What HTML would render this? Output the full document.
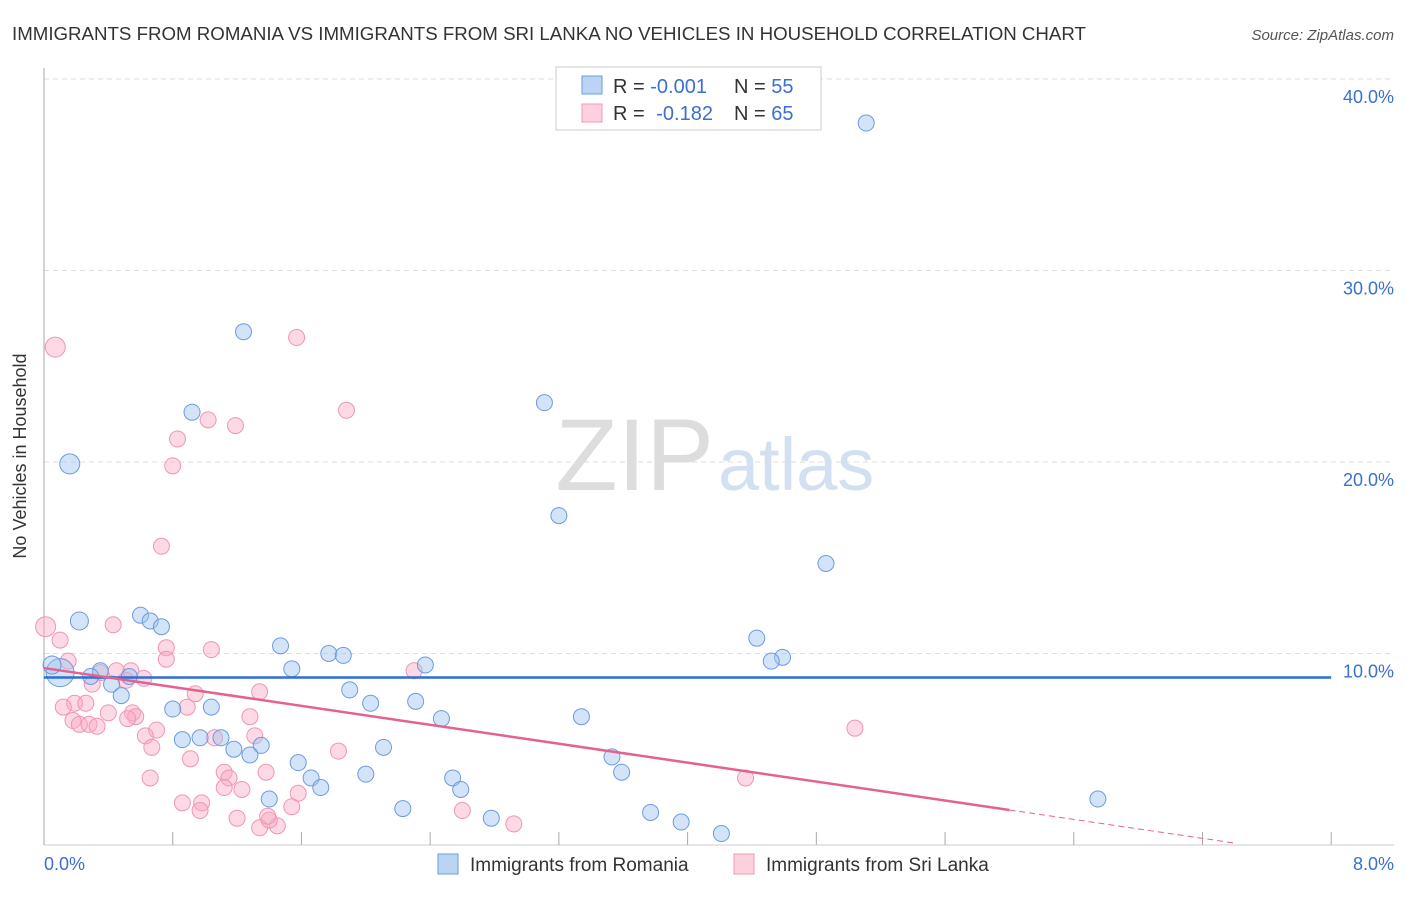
<!DOCTYPE html>
<html><head><meta charset="utf-8"><style>
body{margin:0;background:#fff;font-family:"Liberation Sans",sans-serif;}
svg text{font-family:"Liberation Sans",sans-serif;}
</style></head><body>
<svg width="1406" height="892">
<text x="12" y="40" font-size="18.7" fill="#333">IMMIGRANTS FROM ROMANIA VS IMMIGRANTS FROM SRI LANKA NO VEHICLES IN HOUSEHOLD CORRELATION CHART</text>
<text x="1394" y="40" font-size="15" fill="#555" text-anchor="end" font-style="italic">Source: ZipAtlas.com</text>
<g id="grid"></g>
<text x="714" y="490" font-size="102" font-family="Liberation Serif" fill="#ddd" text-anchor="end">ZIP</text>
<text x="718" y="490" font-size="74" fill="#d3e0f2">atlas</text>
<g id="pts"></g>
<g id="lines"></g>
<text x="26" y="456" font-size="18" fill="#333" text-anchor="middle" transform="rotate(-90 26 456)">No Vehicles in Household</text>
<text x="44" y="870" font-size="18" fill="#3b6fd0">0.0%</text>
<text x="1394" y="870" font-size="18" fill="#3b6fd0" text-anchor="end">8.0%</text>
<g>
<rect x="556" y="67" width="265" height="63" fill="#fff" stroke="#ccc"/>
<rect x="582" y="76" width="20" height="18" fill="#bcd4f4" stroke="#6b9be0"/>
<rect x="582" y="104" width="20" height="18" fill="#fcd0dc" stroke="#f09ab4"/>
<text x="613" y="93" font-size="20" fill="#333">R = <tspan fill="#3b6fd0">-0.001</tspan><tspan x="734">N = </tspan><tspan fill="#3b6fd0">55</tspan></text>
<text x="613" y="120" font-size="20" fill="#333">R = <tspan fill="#3b6fd0" dx="6">-0.182</tspan><tspan x="734">N = </tspan><tspan fill="#3b6fd0">65</tspan></text>
</g>
<g>
<rect x="438" y="854" width="20" height="20" fill="#bcd4f4" stroke="#6b9be0"/>
<text x="470" y="871" font-size="19" fill="#333">Immigrants from Romania</text>
<rect x="734" y="854" width="20" height="20" fill="#fcd0dc" stroke="#f09ab4"/>
<text x="766" y="871" font-size="19" fill="#333">Immigrants from Sri Lanka</text>
</g>
</svg>
<script>
const xTicks=[0,0.8,1.6,2.4,3.2,4,4.8,5.6,6.4,7.2,8];
const yTicks=[10,20,30,40];
const yTickLabels=["10.0%","20.0%","30.0%","40.0%"];
const blueX=[5.11,1.24,0.92,0.16,3.11,3.2,4.86,0.6,0.66,0.73,0.22,4.43,4.59,4.52,1.47,1.77,1.86,1.54,2.37,0.35,0.1,0.05,0.29,0.53,0.42,0.48,1.9,2.03,2.31,0.8,1.04,2.47,3.34,0.86,0.97,1.1,1.35,1.18,1.28,2.11,3.53,1.58,1.66,1.72,2.0,2.54,2.59,3.59,1.4,2.23,2.78,3.77,3.96,4.21,6.55];
const blueY=[37.7,26.8,22.6,19.9,23.1,17.2,14.7,12.0,11.7,11.4,11.7,10.8,9.8,9.6,10.4,10.0,9.9,9.2,9.4,9.1,9.0,9.4,8.8,8.8,8.4,7.8,8.1,7.4,7.5,7.1,7.2,6.6,6.7,5.5,5.6,5.6,5.2,5.0,4.7,5.1,4.6,4.3,3.5,3.0,3.7,3.5,2.9,3.8,2.4,1.9,1.4,1.7,1.2,0.6,2.4];
const blueR=[8,8,8,10,8,8,8,8,8,8,9,8,8,8,8,8,8,8,8,8,14,9,8,8,8,8,8,8,8,8,8,8,8,8,8,8,8,8,8,8,8,8,8,8,8,8,8,8,8,8,8,8,8,8,8];
const pinkX=[0.07,1.57,1.88,1.02,1.19,0.83,0.8,0.73,0.01,0.43,0.1,0.76,1.04,0.76,0.15,0.54,0.45,0.35,0.62,0.3,0.51,0.94,1.34,2.3,0.19,0.12,0.26,0.4,0.55,0.89,0.57,1.28,0.52,0.18,0.22,0.28,0.33,0.7,1.31,0.63,0.67,1.06,1.83,0.91,5.04,1.12,1.38,0.66,1.15,4.36,0.86,0.98,1.12,1.23,1.58,1.54,0.97,1.2,2.6,2.92,1.34,1.45,1.4,1.39];
const pinkY=[26.0,26.5,22.7,22.2,21.9,21.2,19.8,15.6,11.4,11.5,10.7,10.3,10.2,9.7,9.6,9.1,9.1,9.0,8.7,8.4,8.6,7.9,8.0,9.1,7.4,7.2,7.4,6.9,6.9,7.2,6.7,6.7,6.6,6.5,6.3,6.3,6.2,6.0,5.7,5.7,5.1,5.6,4.9,4.5,6.1,3.8,3.8,3.5,3.5,3.5,2.2,2.2,3.0,2.9,2.7,2.0,1.8,1.4,1.8,1.1,0.9,1.0,1.3,1.5];
const blueFit=[8.75,8.75];
const pinkFit=[9.24,-0.64];
const pinkFitX=[0,8];
const X=v=>44+v*160.9, Y=v=>845-v*19.15;
const NS="http://www.w3.org/2000/svg";
const grid=document.getElementById('grid');
function mk(t,a,p){const e=document.createElementNS(NS,t);for(const k in a)e.setAttribute(k,a[k]);p.appendChild(e);return e;}
yTicks.forEach((t,i)=>{
 const l=mk('line',{x1:44,x2:1394,y1:Y(t),y2:Y(t),stroke:'#ddd','stroke-dasharray':'5,4'},grid);
 
 
 const tx=mk('text',{x:1394,y:Y(t)+24,'font-size':18,fill:'#3b6fd0','text-anchor':'end'},grid);
 tx.textContent=yTickLabels[i];
 
 
});
const ax=mk('line',{x1:44,x2:44,y1:68,y2:845,stroke:'#aaa'},grid);


const bx=mk('line',{x1:44,x2:1394,y1:845,y2:845,stroke:'#ccc'},grid);


xTicks.forEach(t=>{
 const l=mk('line',{x1:X(t),x2:X(t),y1:832,y2:845,stroke:'#aaa'},grid);
 
 
});
const pts=document.getElementById('pts');
pinkX.forEach((x,i)=>{
 const c=mk('circle',{cx:X(x),cy:Y(pinkY[i]),r:i==0||i==8?10:8,fill:'rgba(248,170,195,0.45)',stroke:'#ef96b2','stroke-width':1},pts);
 
 
});
blueX.forEach((x,i)=>{
 const c=mk('circle',{cx:X(x),cy:Y(blueY[i]),r:blueR[i],fill:'rgba(160,195,240,0.45)',stroke:'#6b9be0','stroke-width':1},pts);
 
 
});
const lines=document.getElementById('lines');
const bl=mk('line',{x1:X(0),x2:X(8),y1:Y(blueFit[0]),y2:Y(blueFit[1]),stroke:'#2d6fd6','stroke-width':2.5},lines);


const py=x=>pinkFit[0]+(pinkFit[1]-pinkFit[0])*(x-pinkFitX[0])/(pinkFitX[1]-pinkFitX[0]);
const pl=mk('line',{x1:X(0),x2:X(6),y1:Y(py(0)),y2:Y(py(6)),stroke:'#e4628f','stroke-width':2.5},lines);


const pd=mk('line',{x1:X(6),x2:X(7.4),y1:Y(py(6)),y2:Y(py(7.4)),stroke:'#e4628f','stroke-width':1,'stroke-dasharray':'6,4'},lines);


</script>
</body></html>
